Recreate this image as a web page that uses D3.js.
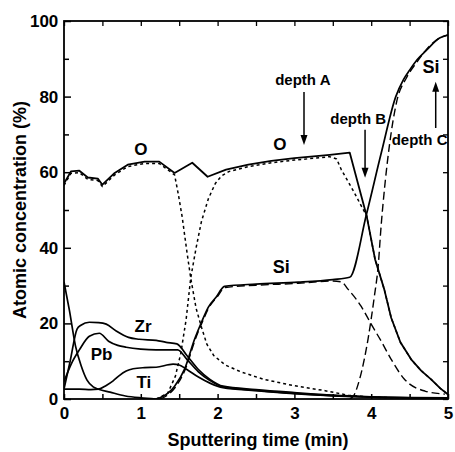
<!DOCTYPE html>
<html>
<head>
<meta charset="utf-8">
<script src="https://cdn.jsdelivr.net/npm/d3@7"></script>
<style>
  html, body { margin: 0; padding: 0; background: #fff; }
  svg { display: block; }
  text { font-family: "Liberation Sans", Arial, Helvetica, sans-serif; font-weight: bold; fill: #000; }
</style>
</head>
<body>
<svg id="chart" width="455" height="452"></svg>
<script>
// ---- data (time in min, atomic concentration in %) ----
const oTime   = [0, 0.09, 0.2, 0.31, 0.44, 0.5, 0.66, 0.83, 1.05, 1.24, 1.44, 1.67, 1.87, 2.11, 2.4, 2.7, 3.0, 3.46, 3.72, 3.94, 4.05, 4.17, 4.26, 4.38, 4.52, 4.65, 4.78, 4.9, 5];
const oValue  = [57, 60.2, 60.4, 58.6, 58.3, 56.7, 59.8, 62, 62.8, 62.8, 59.8, 62.5, 58.8, 60.7, 62, 63, 63.7, 64.6, 65.2, 48.5, 37, 29, 21.5, 15, 10.5, 7.5, 5.2, 2.8, 1.2];

const oPztTime  = [0, 0.09, 0.2, 0.31, 0.44, 0.5, 0.66, 0.83, 1.05, 1.24, 1.44, 1.49, 1.54, 1.6, 1.65, 1.72, 1.79, 1.86, 1.95, 2.1, 2.3, 2.6, 3.0, 3.4, 3.7, 4.0, 4.5, 5];
const oPztValue = [56.5, 59.7, 59.9, 58.1, 57.8, 56.2, 59.3, 61.5, 62.3, 62.3, 59.3, 54, 48, 39, 32, 24, 19, 14.5, 11.5, 9, 7.2, 5.2, 3.5, 2.2, 1, 0.5, 0.2, 0];

const oSiO2Time  = [1.2, 1.35, 1.45, 1.52, 1.59, 1.65, 1.72, 1.79, 1.88, 1.97, 2.05, 2.15, 2.4, 2.7, 3.0, 3.46, 3.55, 3.61, 3.7, 3.78, 3.86, 3.94, 4.05, 4.17, 4.26, 4.38, 4.52, 4.65, 4.78, 4.9, 5];
const oSiO2Value = [0, 1.5, 6, 12, 21, 32, 40, 47, 53, 57, 59, 60.2, 61.5, 62.5, 63.2, 64.1, 63.5, 60.7, 57.5, 54.6, 51.5, 48.5, 37, 29, 21.5, 15, 10.5, 7.5, 5.2, 2.8, 1.2];

const siTime  = [1.2, 1.27, 1.44, 1.57, 1.7, 1.79, 1.88, 1.98, 2.09, 2.5, 3.05, 3.5, 3.72, 3.94, 4.13, 4.32, 4.42, 4.5, 4.6, 4.72, 4.89, 5];
const siValue = [0, 0.5, 3.4, 7.9, 15.8, 20.3, 24.3, 26.9, 29.8, 30.4, 30.9, 31.6, 32.2, 49, 65, 80, 84.5, 87, 89.8, 92.3, 95.5, 96.3];

const siSiO2Time  = [1.25, 1.33, 1.46, 1.58, 1.71, 1.8, 1.89, 1.99, 2.1, 2.5, 3.05, 3.5, 3.61, 3.7, 3.87, 4.0, 4.13, 4.26, 4.43, 4.7, 4.96];
const siSiO2Value = [0, 0.8, 3.4, 7.9, 15.8, 20.3, 24.3, 26.9, 29.5, 30.1, 30.6, 31.2, 31, 29, 24.5, 19.8, 15.3, 10.5, 5.3, 2.1, 1.3];

const siSubTime  = [3.72, 3.77, 3.85, 3.96, 4.04, 4.09, 4.13, 4.18, 4.24, 4.33, 4.46, 4.59, 4.72, 4.89, 5];
const siSubValue = [0, 0.8, 5.3, 16, 27, 35, 46, 57, 67.5, 78.5, 85, 89, 92.5, 95.5, 96.3];

const zrTime  = [0, 0.08, 0.17, 0.22, 0.33, 0.45, 0.55, 0.68, 0.84, 0.98, 1.2, 1.33, 1.47, 1.6, 1.75, 1.9, 2.07, 2.5, 3.0, 3.5, 4.0, 4.5, 5];
const zrValue = [2.6, 10, 18.5, 19.5, 20.3, 20.2, 19.8, 18, 16.3, 15.8, 15.5, 15, 14.6, 11.5, 7.8, 5.2, 3.4, 2.5, 1.7, 1.0, 0.6, 0.4, 0.3];

const pbTime  = [0, 0.1, 0.2, 0.33, 0.46, 0.58, 0.7, 0.81, 1.0, 1.2, 1.48, 1.6, 1.75, 1.9, 2.07, 2.5, 3.0, 3.5, 4.0, 4.5, 5];
const pbValue = [4.6, 9.5, 13, 16.6, 17.4, 15.3, 14.2, 13.7, 13.2, 13, 13, 10.5, 7.2, 4.9, 3.2, 2.3, 1.5, 0.9, 0.5, 0.3, 0.2];

const tiTime  = [0, 0.2, 0.35, 0.45, 0.55, 0.64, 0.72, 0.81, 0.9, 1.05, 1.2, 1.42, 1.5, 1.6, 1.75, 1.9, 2.07, 2.5, 3.0, 3.5, 4.0, 4.5, 5];
const tiValue = [2.6, 2.6, 2.5, 2.6, 3.6, 4.8, 6.2, 7.4, 8, 8.3, 8.4, 9.2, 9, 7.8, 5.8, 4.2, 3.0, 2.2, 1.4, 0.8, 0.5, 0.3, 0.2];

const cTime  = [0, 0.07, 0.15, 0.22, 0.3, 0.38, 0.45, 0.6, 0.8, 1.0, 1.2];
const cValue = [31, 23.5, 14, 9, 5, 3.2, 2.6, 1.8, 0.8, 0.3, 0];

const xTickLabels = [0, 1, 2, 3, 4, 5];
const yTickLabels = [0, 20, 40, 60, 80, 100];

const labelText = ["O", "O", "Si", "Si", "Zr", "Pb", "Ti", "depth A", "depth B", "depth C"];
const labelTime = [1.0, 2.81, 2.83, 4.78, 1.03, 0.49, 1.04, 3.11, 3.83, 4.63];
const labelValue = [64.5, 65.9, 33.3, 86.2, 17.7, 10.3, 2.9, 83, 72.8, 67.2];

const arrowTime  = [3.125, 3.92, 4.84];
const arrowFrom  = [81.2, 71.2, 71.7];
const arrowTo    = [67.2, 58.5, 83.9];

// ---- layout ----
const svg = d3.select("#chart");
const mLeft = 64, mRight = 448, mTop = 21, mBottom = 399;
const x = d3.scaleLinear().domain([0, 5]).range([mLeft, mRight]);
const y = d3.scaleLinear().domain([0, 100]).range([mBottom, mTop]);

svg.append("defs").append("clipPath").attr("id", "clip")
  .append("rect").attr("x", mLeft).attr("y", mTop).attr("width", mRight - mLeft).attr("height", mBottom - mTop);

const plot = svg.append("g").attr("clip-path", "url(#clip)");

function series(t, v) { return t.map((d, i) => [d, v[i]]); }
const lineLin = d3.line().x(d => x(d[0])).y(d => y(d[1])).curve(d3.curveLinear);
const lineMono = d3.line().x(d => x(d[0])).y(d => y(d[1])).curve(d3.curveMonotoneX);

const specs = [
  { t: oPztTime, v: oPztValue, dash: "3,3", w: 1.5, gen: lineLin },
  { t: oSiO2Time, v: oSiO2Value, dash: "3,3", w: 1.5, gen: lineLin },
  { t: siSiO2Time, v: siSiO2Value, dash: "8,4", w: 1.4, gen: lineMono },
  { t: siSubTime, v: siSubValue, dash: "8,4", w: 1.4, gen: lineMono },
  { t: cTime, v: cValue, dash: null, w: 1.7, gen: lineMono },
  { t: zrTime, v: zrValue, dash: null, w: 1.7, gen: lineMono },
  { t: pbTime, v: pbValue, dash: null, w: 1.7, gen: lineMono },
  { t: tiTime, v: tiValue, dash: null, w: 1.7, gen: lineMono },
  { t: siTime, v: siValue, dash: null, w: 1.7, gen: lineMono },
  { t: oTime, v: oValue, dash: null, w: 1.8, gen: lineLin }
];
specs.forEach(s => {
  plot.append("path")
    .attr("d", s.gen(series(s.t, s.v)))
    .attr("fill", "none")
    .attr("stroke", "#000")
    .attr("stroke-width", s.w)
    .attr("stroke-linejoin", "round")
    .attr("stroke-dasharray", s.dash);
});

// ---- axes ----
const axisFont = "17px";
const gLeft = svg.append("g").attr("transform", `translate(${mLeft},0)`)
  .call(d3.axisLeft(y).tickValues(d3.range(0, 101, 10)).tickSize(-5).tickPadding(4)
    .tickFormat(d => yTickLabels.includes(d) ? d : ""));
gLeft.selectAll(".tick line").attr("x2", d => d % 20 === 0 ? 7 : 5).attr("stroke-width", 1.5);
const gRight = svg.append("g").attr("transform", `translate(${mRight},0)`)
  .call(d3.axisRight(y).tickValues(d3.range(0, 101, 10)).tickSize(-5).tickFormat(""));
gRight.selectAll(".tick line").attr("stroke-width", 1.3);
const gBottom = svg.append("g").attr("transform", `translate(0,${mBottom})`)
  .call(d3.axisBottom(x).tickValues(d3.range(0, 5.01, 0.5)).tickSize(-5).tickPadding(4)
    .tickFormat(d => xTickLabels.includes(d) ? d : ""));
gBottom.selectAll(".tick line").attr("stroke-width", 1.5);
const gTop = svg.append("g").attr("transform", `translate(0,${mTop})`)
  .call(d3.axisTop(x).tickValues(d3.range(0, 5.01, 0.5)).tickSize(-5).tickFormat(""));
gTop.selectAll(".tick line").attr("stroke-width", 1.3);

[gLeft, gRight, gBottom, gTop].forEach(g => {
  g.select(".domain").remove();
  g.selectAll("text").style("font-size", axisFont).style("font-family", '"Liberation Sans", Arial, sans-serif').style("font-weight", "bold");
});
gLeft.selectAll("text").attr("dx", "-0.1em");
gBottom.selectAll("text").attr("dy", "0.95em");

svg.append("rect").attr("x", mLeft).attr("y", mTop).attr("width", mRight - mLeft).attr("height", mBottom - mTop)
  .attr("fill", "none").attr("stroke", "#000").attr("stroke-width", 1.8);

// axis titles
svg.append("text").attr("x", (mLeft + mRight) / 2 + 2).attr("y", 446).attr("text-anchor", "middle")
  .style("font-size", "18px").text("Sputtering time (min)");
svg.append("text").attr("transform", `translate(26,${(mTop + mBottom) / 2})rotate(-90)`).attr("text-anchor", "middle")
  .style("font-size", "18px").text("Atomic concentration (%)");

// ---- annotations ----
const sizeFor = s => s.startsWith("depth") ? "15px" : (s === "O" ? "17px" : (s === "Si" ? "18px" : "17px"));
labelText.forEach((s, i) => {
  svg.append("text").attr("x", x(labelTime[i])).attr("y", y(labelValue[i]))
    .attr("text-anchor", "middle").style("font-size", sizeFor(s)).text(s);
});

arrowTime.forEach((t, i) => {
  const x0 = x(t), y0 = y(arrowFrom[i]), y1 = y(arrowTo[i]);
  const dir = y1 > y0 ? 1 : -1;
  svg.append("line").attr("x1", x0).attr("x2", x0).attr("y1", y0).attr("y2", y1 - dir * 8)
    .attr("stroke", "#000").attr("stroke-width", 1.5);
  svg.append("path")
    .attr("d", `M${x0 - 3.5},${y1 - dir * 10}L${x0 + 3.5},${y1 - dir * 10}L${x0},${y1}Z`)
    .attr("fill", "#000");
});
</script>
</body>
</html>
